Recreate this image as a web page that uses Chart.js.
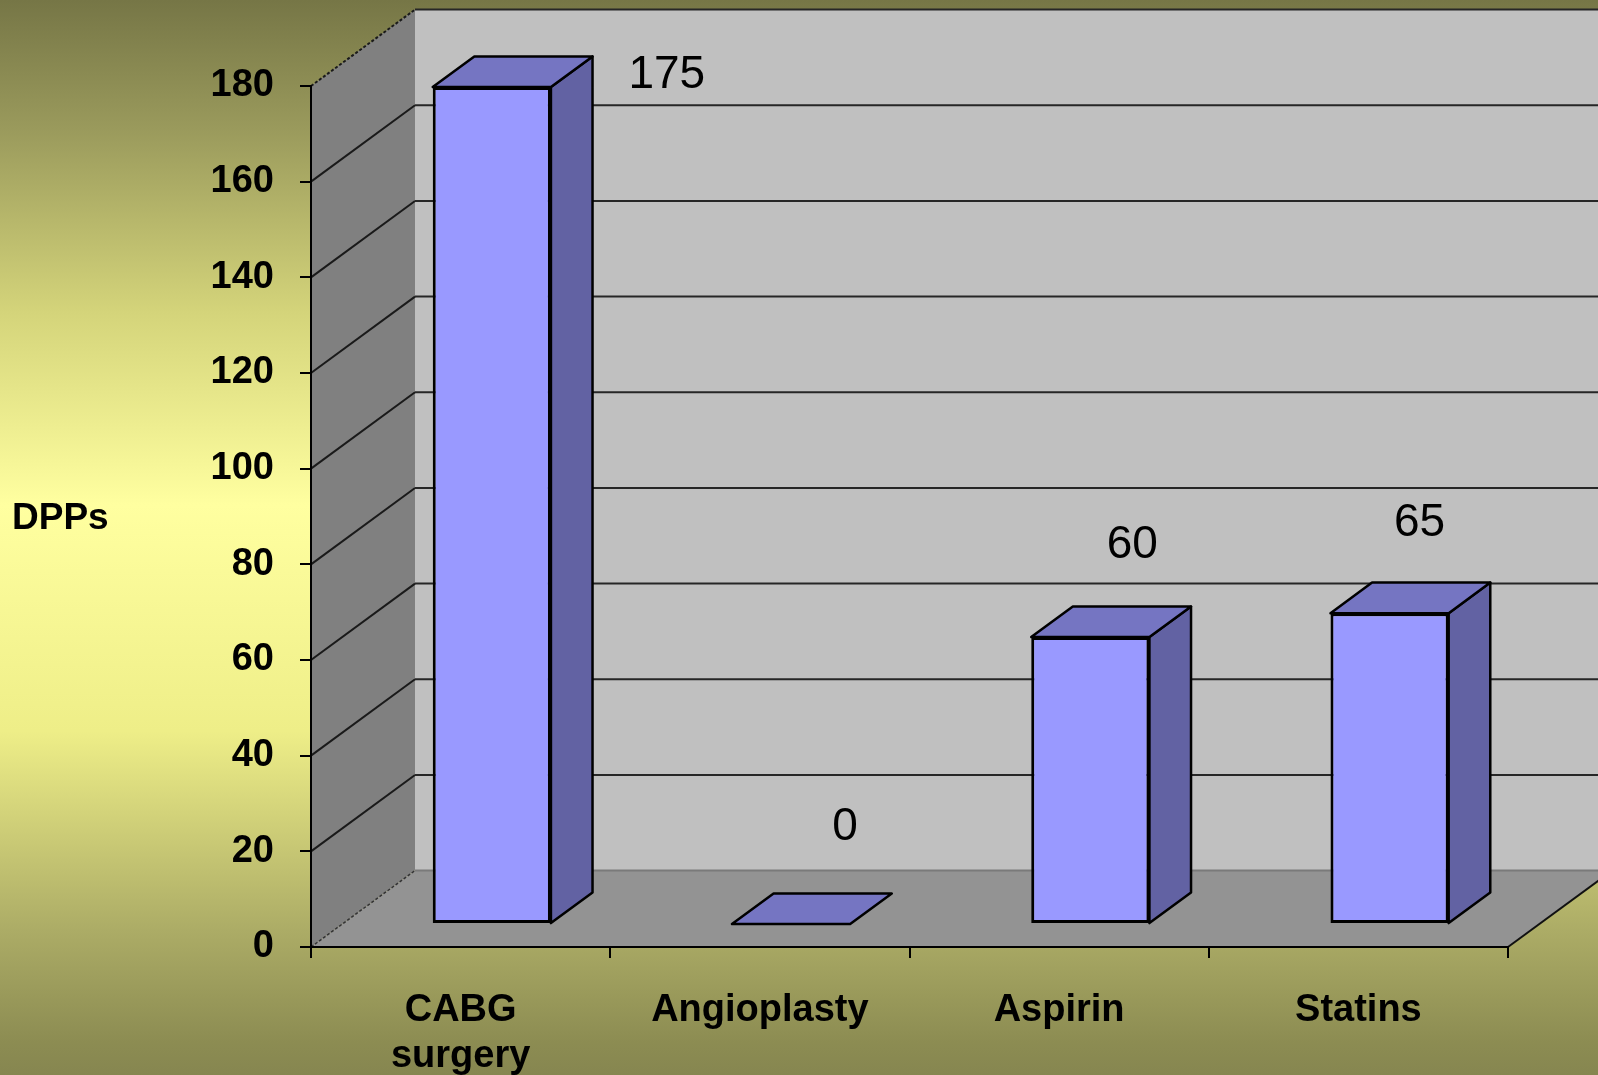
<!DOCTYPE html>
<html>
<head>
<meta charset="utf-8">
<script src="https://cdn.jsdelivr.net/npm/chart.js@4.4.0/dist/chart.umd.min.js"></script>
<style>
  html, body { margin: 0; padding: 0; overflow: hidden; }
  canvas { display: block; }
</style>
</head>
<body>
<canvas id="grafico" width="1598" height="1075"></canvas>
<script>
const categorias = [["CABG", "surgery"], "Angioplasty", "Aspirin", "Statins"];
const valoresDPP = [175, 0, 60, 65];
const rotulosValor = ["175", "0", "60", "65"];
const yMin = 0;
const yMax = 180;
const yPasso = 20;
const tituloY = "DPPs";

Chart.defaults.font.family = "'Liberation Sans', Arial, sans-serif";

// profundidade do "3D" (parede do fundo) e posicao da barra dentro dela
const prof = { dx: 104, dy: -76.4 };
const frente = 0.3, fundo = 0.7;

function poligono(ctx, pts, fill, stroke, w) {
  ctx.beginPath();
  ctx.moveTo(pts[0][0], pts[0][1]);
  for (let i = 1; i < pts.length; i++) ctx.lineTo(pts[i][0], pts[i][1]);
  ctx.closePath();
  if (fill) { ctx.fillStyle = fill; ctx.fill(); }
  if (stroke) { ctx.strokeStyle = stroke; ctx.lineWidth = w || 2; ctx.lineJoin = "round"; ctx.stroke(); }
}

function linha(ctx, x1, y1, x2, y2) {
  ctx.beginPath();
  ctx.moveTo(x1, y1);
  ctx.lineTo(x2, y2);
  ctx.stroke();
}

const cenario = {
  id: "cenario",
  beforeDraw(chart) {
    const { ctx, chartArea: a, scales: { y } } = chart;
    const { dx, dy } = prof;
    ctx.save();

    const g = ctx.createLinearGradient(0, 0, 0, chart.height);
    g.addColorStop(0, "#767646");
    g.addColorStop(0.12, "#9a9a5c");
    g.addColorStop(0.29, "#d4d47a");
    g.addColorStop(0.47, "#ffffa0");
    g.addColorStop(0.68, "#eeee88");
    g.addColorStop(0.865, "#acac66");
    g.addColorStop(0.97, "#8c8c52");
    g.addColorStop(1, "#868650");
    ctx.fillStyle = g;
    ctx.fillRect(0, 0, chart.width, chart.height);

    const yTopo = y.getPixelForValue(yMax);
    const yBase = y.getPixelForValue(yMin);

    // parede do fundo
    ctx.fillStyle = "#c0c0c0";
    ctx.fillRect(a.left + dx, yTopo + dy, a.right - a.left, yBase - yTopo);
    // parede lateral
    poligono(ctx, [[a.left, yTopo], [a.left + dx, yTopo + dy], [a.left + dx, yBase + dy], [a.left, yBase]], "#808080");
    // piso
    poligono(ctx, [[a.left, yBase], [a.right, yBase], [a.right + dx, yBase + dy], [a.left + dx, yBase + dy]], "#939393");

    // linhas de grade
    ctx.lineWidth = 2;
    y.ticks.forEach(t => {
      if (t.value === yMin) return;
      const p = y.getPixelForValue(t.value);
      ctx.strokeStyle = "#1a1a1a";
      ctx.setLineDash(t.value === yMax ? [3, 2] : []);
      linha(ctx, a.left, p, a.left + dx, p + dy);
      ctx.setLineDash([]);
      ctx.strokeStyle = "#262626";
      linha(ctx, a.left + dx, p + dy, a.right + dx, p + dy);
    });

    ctx.strokeStyle = "#7a7a7a";
    linha(ctx, a.left + dx, yBase + dy, a.right + dx, yBase + dy);
    ctx.strokeStyle = "#333";
    ctx.lineWidth = 1.5;
    ctx.setLineDash([3, 2]);
    linha(ctx, a.left, yBase, a.left + dx, yBase + dy);
    ctx.setLineDash([]);
    ctx.strokeStyle = "#111";
    ctx.lineWidth = 2;
    linha(ctx, a.right, yBase, a.right + dx, yBase + dy);

    ctx.restore();
  },
  afterDraw(chart) {
    const { ctx, chartArea: a } = chart;
    ctx.save();
    ctx.fillStyle = "#000";
    ctx.font = "bold 37px 'Liberation Sans', Arial, sans-serif";
    ctx.textAlign = "left";
    ctx.textBaseline = "middle";
    ctx.fillText(tituloY, 12, (a.top + a.bottom) / 2 + 2);
    ctx.restore();
  }
};

const barras3d = {
  id: "barras3d",
  beforeDatasetsDraw(chart) {
    chart.ctx.save();
    chart.ctx.translate(prof.dx * frente, prof.dy * frente);
  },
  afterDatasetsDraw(chart, args, opts) {
    const ctx = chart.ctx;
    const ddx = prof.dx * (fundo - frente);
    const ddy = prof.dy * (fundo - frente);
    const barras = chart.getDatasetMeta(0).data;
    barras.forEach(bar => {
      const { x, y, base, width } = bar.getProps(["x", "y", "base", "width"], true);
      const l = x - width / 2, r = x + width / 2;
      if (base - y > 0) {
        poligono(ctx, [[r, y], [r + ddx, y + ddy], [r + ddx, base + ddy], [r, base]], "#6262a3", "#000", 2.5);
      }
      poligono(ctx, [[l, y], [r, y], [r + ddx, y + ddy], [l + ddx, y + ddy]], "#7575c2", "#000", 2.5);
    });
    ctx.restore();

    // rotulos de valor
    ctx.save();
    ctx.fillStyle = "#000";
    ctx.font = "46px 'Liberation Sans', Arial, sans-serif";
    ctx.textAlign = "center";
    ctx.textBaseline = "middle";
    barras.forEach((bar, i) => {
      const { x, y } = bar.getProps(["x", "y"], true);
      const d = opts.deslocamentos[i];
      ctx.fillText(rotulosValor[i], x + prof.dx * frente + d[0], y + prof.dy * frente + d[1]);
    });
    ctx.restore();
  }
};

const grafico = document.getElementById("grafico");

new Chart(grafico, {
  type: "bar",
  data: {
    labels: categorias,
    datasets: [
      {
        label: tituloY,
        data: valoresDPP,
        backgroundColor: "#9999ff",
        borderColor: "#000",
        borderWidth: 3,
        borderSkipped: false,
        categoryPercentage: 1,
        barPercentage: 0.395,
        clip: false
      }
    ]
  },
  options: {
    responsive: false,
    animation: false,
    layout: { padding: { left: 0, right: 90, top: 86, bottom: 0 } },
    plugins: {
      legend: { display: false },
      tooltip: { enabled: false },
      barras3d: {
        deslocamentos: [[175, -12], [54, -97], [42, -92], [30, -90]]
      }
    },
    scales: {
      x: {
        grid: { offset: true, drawOnChartArea: false, color: "#000", lineWidth: 2, tickLength: 11 },
        border: { color: "#000", width: 2 },
        ticks: {
          color: "#000",
          font: { size: 38, weight: "bold", lineHeight: 1.22 },
          padding: 29,
          maxRotation: 0,
          autoSkip: false
        },
        afterFit(s) { s.height = 128; }
      },
      y: {
        min: yMin,
        max: yMax,
        grid: { drawOnChartArea: false, color: "#000", lineWidth: 2, tickLength: 11 },
        border: { color: "#000", width: 2 },
        ticks: {
          stepSize: yPasso,
          color: "#000",
          font: { size: 38, weight: "bold" },
          padding: 26
        },
        afterFit(s) { s.width = 311; }
      }
    }
  },
  plugins: [cenario, barras3d]
});
</script>
</body>
</html>
